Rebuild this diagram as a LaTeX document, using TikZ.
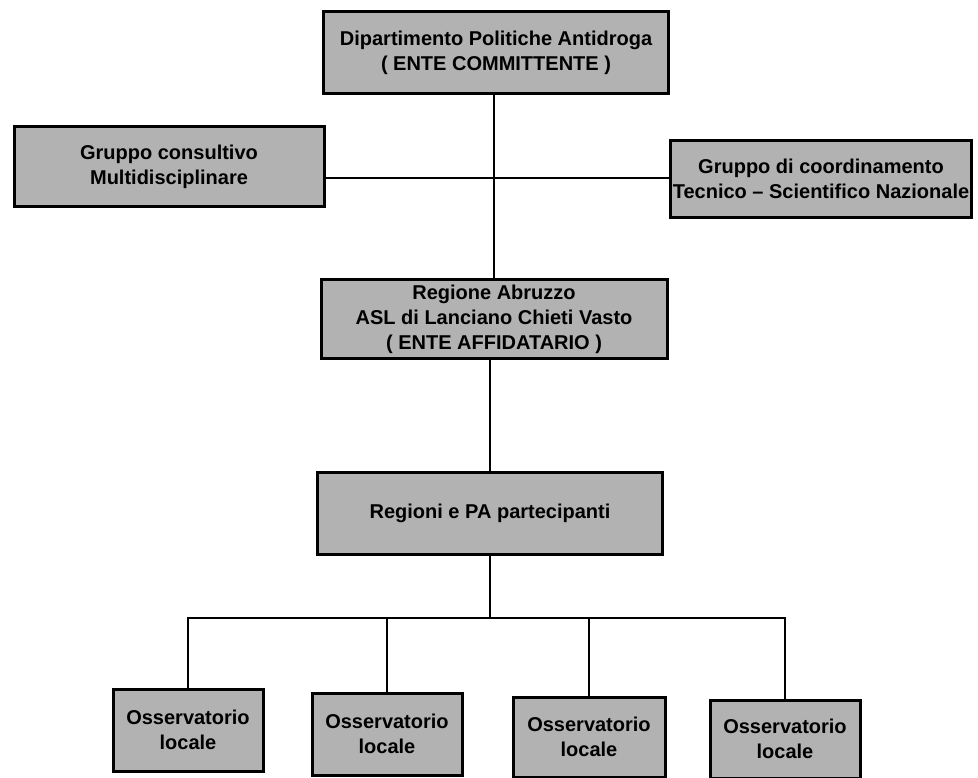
\documentclass[tikz,border=0pt]{standalone}
\usepackage{fontspec}
\setmainfont{Liberation Sans}
\begin{document}
\begin{tikzpicture}[x=1pt,y=-1pt,
  box/.style={draw=black,line width=3pt,fill=black!30,align=center,
    inner sep=0pt,font=\bfseries\fontsize{20}{25}\selectfont},
  link/.style={draw=black,line width=2pt}]
  \useasboundingbox (0,0) rectangle (978,778);
  \node[box,minimum width=345,minimum height=82] (dpa) at (496,53) {Dipartimento Politiche Antidroga\\( ENTE COMMITTENTE )};
  \node[box,minimum width=310,minimum height=80] (gcm) at (169,167) {Gruppo consultivo\\Multidisciplinare};
  \node[box,minimum width=301,minimum height=77] (gct) at (821,179) {Gruppo di coordinamento\\Tecnico -- Scientifico Nazionale};
  \node[box,minimum width=346,minimum height=78] (asl) at (494,319) {Regione Abruzzo\\ASL di Lanciano Chieti Vasto\\( ENTE AFFIDATARIO )};
  \node[box,minimum width=345,minimum height=82] (reg) at (490,513) {Regioni e PA partecipanti};
  \node[box,minimum width=150,minimum height=82] (o1) at (188,730) {Osservatorio\\locale};
  \node[box,minimum width=150,minimum height=82] (o2) at (387,734) {Osservatorio\\locale};
  \node[box,minimum width=152,minimum height=80] (o3) at (589,737) {Osservatorio\\locale};
  \node[box,minimum width=150,minimum height=78] (o4) at (785,739) {Osservatorio\\locale};
  \coordinate (hub) at (494,178);
  \coordinate (bus) at (490,618);
  \path[link] (dpa.south -| hub) -- (asl.north -| hub);
  \path[link] (gcm.east |- hub) -- (gct.west |- hub);
  \path[link] (asl.south -| reg.south) -- (reg.north);
  \path[link] (reg.south) -- (reg.south |- bus);
  \path[link] (o1.north) |- (o4.north |- bus) -- (o4.north);
  \path[link] (o2.north) -- (o2.north |- bus);
  \path[link] (o3.north) -- (o3.north |- bus);
\end{tikzpicture}
\end{document}
